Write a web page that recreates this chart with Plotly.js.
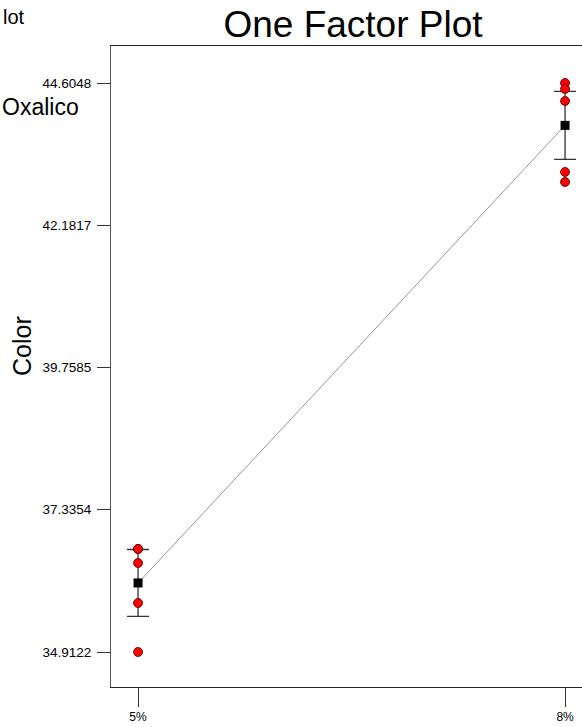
<!DOCTYPE html>
<html>
<head>
<meta charset="utf-8">
<script src="https://cdn.plot.ly/plotly-3.0.1.min.js"></script>
<style>
html,body{margin:0;padding:0;background:#fff;overflow:hidden;}
#chart{width:582px;height:727px;}
</style>
</head>
<body>
<div id="chart"></div>
<script>
// Factor levels (numeric position) and their labels
var levels = [5, 8];
var levelLabels = ["5%", "8%"];

// Observed design points for each level
var obsX5 = [5, 5, 5, 5, 5];
var obsY5 = [36.667, 36.667, 36.428, 35.747, 34.9122];
var obsX8 = [8, 8, 8, 8, 8];
var obsY8 = [44.6048, 44.503, 44.298, 43.089, 42.918];

// Predicted means and LSD half-widths
var meanY = [36.088, 43.883];
var lsdHalf = [0.57, 0.58];

// Y tick values / labels
var yTickVals = [34.9122, 37.3354, 39.7585, 42.1817, 44.6048];
var yTickText = ["34.9122", "37.3354", "39.7585", "42.1817", "44.6048"];

// Visible fragments of side texts
var cornerText = "lot";
var factorText = "Oxalico";
var yTitle = "Color";

var FONT = "Liberation Sans, Arial, sans-serif";
var W = 471, H = 641, L = 111, T = 46;
function px2x(p) { return (p - L) / W; }
function py2y(p) { return (T + H - p) / H; }

var traces = [
  {
    x: levels, y: meanY, type: "scatter", mode: "lines",
    line: {color: "#7a7a7a", width: 0.8},
    hoverinfo: "skip", showlegend: false
  },
  {
    x: levels, y: meanY, type: "scatter", mode: "markers",
    marker: {symbol: "square", size: 1, color: "rgba(0,0,0,0)"},
    error_y: {type: "data", array: lsdHalf, visible: true, color: "#333333", thickness: 1.3, width: 11},
    showlegend: false
  },
  {
    x: obsX5.concat(obsX8), y: obsY5.concat(obsY8), type: "scatter", mode: "markers",
    marker: {symbol: "circle", size: 9, color: "#ff0000", line: {color: "#400000", width: 0.8}},
    showlegend: false
  },
  {
    x: levels, y: meanY, type: "scatter", mode: "markers",
    marker: {symbol: "square", size: 9, color: "#000000", line: {color: "#000", width: 0}},
    showlegend: false
  }
];

var layout = {
  width: 582, height: 727,
  margin: {l: L, r: 0, t: T, b: 40, pad: 0},
  paper_bgcolor: "#ffffff", plot_bgcolor: "#ffffff",
  font: {family: FONT, color: "#000"},
  showlegend: false,
  title: {
    text: "One Factor Plot",
    font: {family: FONT, size: 37, color: "#000"},
    xref: "container", x: 353 / 582, xanchor: "center",
    yref: "container", y: 1 - 24 / 727, yanchor: "middle"
  },
  xaxis: {
    range: [4.81, 8.119],
    tickmode: "array", tickvals: levels, ticktext: levelLabels,
    ticks: "outside", ticklen: 19, tickwidth: 1, tickcolor: "#333",
    tickfont: {family: FONT, size: 12, color: "#000"},
    showline: true, linecolor: "#222", linewidth: 1, mirror: true,
    showgrid: false, zeroline: false, automargin: false, fixedrange: true
  },
  yaxis: {
    range: [34.316, 45.235],
    tickmode: "array", tickvals: yTickVals, ticktext: yTickText,
    ticks: "outside", ticklen: 13, tickwidth: 1, tickcolor: "#333",
    ticklabelstandoff: 3,
    tickfont: {family: FONT, size: 13.5, color: "#000"},
    showline: true, linecolor: "#555", linewidth: 1, mirror: false,
    showgrid: false, zeroline: false, automargin: false, fixedrange: true,
    title: {text: "", font: {family: FONT, size: 25, color: "#000"}}
  },
  annotations: [
    {
      text: cornerText, xref: "paper", yref: "paper",
      x: px2x(1), y: py2y(17), xanchor: "left", yanchor: "middle",
      showarrow: false, font: {family: FONT, size: 20, color: "#000"}
    },
    {
      text: factorText, xref: "paper", yref: "paper",
      x: px2x(0), y: py2y(107), xanchor: "left", yanchor: "middle",
      showarrow: false, font: {family: FONT, size: 23, color: "#000"}
    },
    {
      text: yTitle, xref: "paper", yref: "paper", textangle: -90,
      x: px2x(22), y: py2y(346), xanchor: "center", yanchor: "middle",
      showarrow: false, font: {family: FONT, size: 25, color: "#000"}
    }
  ]
};

Plotly.newPlot("chart", traces, layout, {displayModeBar: false, staticPlot: true});
</script>
</body>
</html>
